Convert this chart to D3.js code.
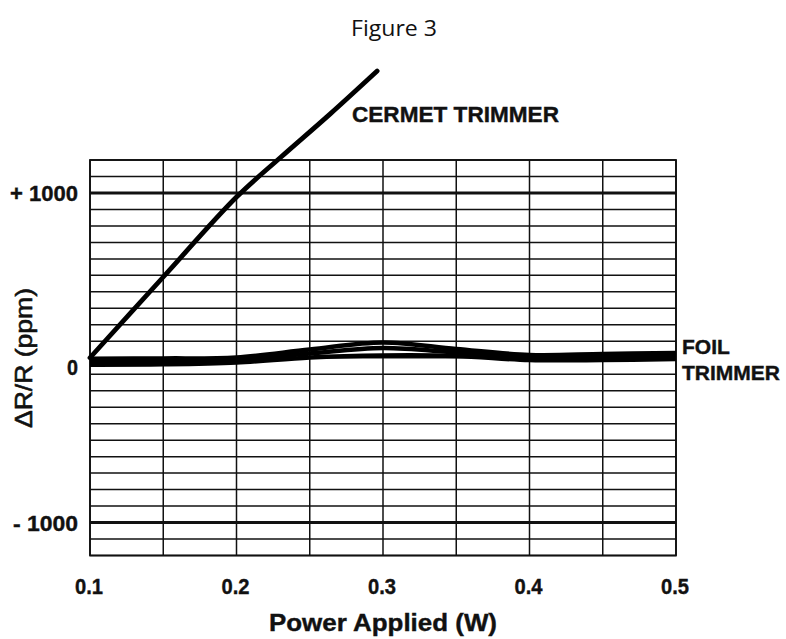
<!DOCTYPE html>
<html>
<head>
<meta charset="utf-8">
<script src="https://cdn.jsdelivr.net/npm/d3@7"></script>
<style>
  body { margin: 0; background: #fff; }
  svg { display: block; }
</style>
</head>
<body>
<svg width="786" height="639"></svg>
<script>
const svg = d3.select("svg");

// axis ticks and labels
const xTicks = [0.1, 0.2, 0.3, 0.4, 0.5];
const yTicks = [1000, 0, -1000];
const yTickLabels = ["+ 1000", "0", "- 1000"];

// cermet trimmer curve
const cermetPower = [0.1, 0.15, 0.2, 0.23, 0.264, 0.296];
const cermetDelta = [0, 490, 975, 1215, 1480, 1740];

// foil trimmer band (three overlapping traces)
const foilPower = [0.1, 0.15, 0.2, 0.25, 0.3, 0.35, 0.4, 0.45, 0.5];
const foilUpper = [-6, -4, 2, 50, 93, 53, 17, 23, 29];
const foilMiddle = [-24, -22, -14, 26, 59, 32, 2, 5, 11];
const foilLower = [-42, -40, -29, 2, 14, 11, -14, -14, -8];

const xScale = d3.scaleLinear().domain([0.1, 0.5]).range([90, 676]);
const yScale = d3.scaleLinear().domain([-1200, 1200]).range([555.5, 160]);

// grid
const grid = svg.append("g");
grid.selectAll("line.v")
  .data(d3.range(0.1, 0.5001, 0.05))
  .enter().append("line")
  .attr("x1", d => xScale(d)).attr("x2", d => xScale(d))
  .attr("y1", yScale(-1200)).attr("y2", yScale(1200))
  .attr("stroke", "#111").attr("stroke-width", 1.5);

grid.selectAll("line.h")
  .data(d3.range(-1200, 1201, 100))
  .enter().append("line")
  .attr("x1", xScale(0.1)).attr("x2", xScale(0.5))
  .attr("y1", d => yScale(d)).attr("y2", d => yScale(d))
  .attr("stroke", "#111")
  .attr("stroke-width", d => Math.abs(d) === 1000 ? 3 : 1.5);

grid.append("rect")
  .attr("x", xScale(0.1)).attr("y", yScale(1200))
  .attr("width", xScale(0.5) - xScale(0.1))
  .attr("height", yScale(-1200) - yScale(1200))
  .attr("fill", "none").attr("stroke", "#111").attr("stroke-width", 1.8);

// curves
const line = d3.line()
  .x(d => xScale(d[0]))
  .y(d => yScale(d[1]))
  .curve(d3.curveCatmullRom.alpha(0.5));

[foilLower, foilMiddle, foilUpper].forEach(series => {
  svg.append("path")
    .attr("d", line(foilPower.map((p, i) => [p, series[i]])))
    .attr("fill", "none").attr("stroke", "#000")
    .attr("stroke-width", 4.5);
});

svg.append("path")
  .attr("d", line(cermetPower.map((p, i) => [p, cermetDelta[i]])))
  .attr("fill", "none").attr("stroke", "#000")
  .attr("stroke-width", 4.8).attr("stroke-linecap", "round");

// tick labels
const font = "'Liberation Sans', Arial, sans-serif";
svg.selectAll("text.xt")
  .data(xTicks)
  .enter().append("text")
  .attr("x", d => xScale(d) - 1).attr("y", 594)
  .attr("text-anchor", "middle")
  .attr("font-family", font).attr("font-weight", "bold").attr("font-size", 22)
  .attr("textLength", 28).attr("lengthAdjust", "spacingAndGlyphs")
  .attr("fill", "#111").attr("stroke", "#111").attr("stroke-width", 0.4)
  .text(d => d.toFixed(1));

const yLabelWidths = [68, 11, 65];
svg.selectAll("text.yt")
  .data(yTicks)
  .enter().append("text")
  .attr("x", 78)
  .attr("y", d => d === 0 ? 375 : yScale(d) + 8)
  .attr("text-anchor", "end")
  .attr("font-family", font).attr("font-weight", "bold").attr("font-size", 22)
  .attr("textLength", (d, i) => yLabelWidths[i]).attr("lengthAdjust", "spacingAndGlyphs")
  .attr("fill", "#111").attr("stroke", "#111").attr("stroke-width", 0.4)
  .text((d, i) => yTickLabels[i]);

// axis titles
svg.append("text")
  .attr("x", 383).attr("y", 631)
  .attr("text-anchor", "middle")
  .attr("font-family", font).attr("font-weight", "bold").attr("font-size", 24)
  .attr("textLength", 228).attr("lengthAdjust", "spacingAndGlyphs")
  .attr("fill", "#111").attr("stroke", "#111").attr("stroke-width", 0.4)
  .text("Power Applied (W)");

svg.append("text")
  .attr("transform", "translate(32,358) rotate(-90)")
  .attr("text-anchor", "middle")
  .attr("font-family", font).attr("font-size", 24)
  .attr("textLength", 140).attr("lengthAdjust", "spacingAndGlyphs")
  .attr("fill", "#111").attr("stroke", "#111").attr("stroke-width", 0.6)
  .text("\u0394R/R (ppm)");

// series labels
svg.append("text")
  .attr("x", 352).attr("y", 122)
  .attr("font-family", font).attr("font-weight", "bold").attr("font-size", 22)
  .attr("textLength", 207).attr("lengthAdjust", "spacingAndGlyphs")
  .attr("fill", "#111").attr("stroke", "#111").attr("stroke-width", 0.4)
  .text("CERMET TRIMMER");

svg.append("text")
  .attr("x", 682).attr("y", 354)
  .attr("font-family", font).attr("font-weight", "bold").attr("font-size", 21)
  .attr("fill", "#111").attr("stroke", "#111").attr("stroke-width", 0.4)
  .text("FOIL");

svg.append("text")
  .attr("x", 682).attr("y", 380)
  .attr("font-family", font).attr("font-weight", "bold").attr("font-size", 21)
  .attr("fill", "#111").attr("stroke", "#111").attr("stroke-width", 0.4)
  .text("TRIMMER");

// title
svg.append("text")
  .attr("x", 394).attr("y", 36)
  .attr("text-anchor", "middle")
  .attr("font-family", "'Open Sans', sans-serif").attr("font-size", 22)
  .attr("textLength", 86).attr("lengthAdjust", "spacingAndGlyphs")
  .attr("fill", "#111")
  .text("Figure 3");
</script>
</body>
</html>
